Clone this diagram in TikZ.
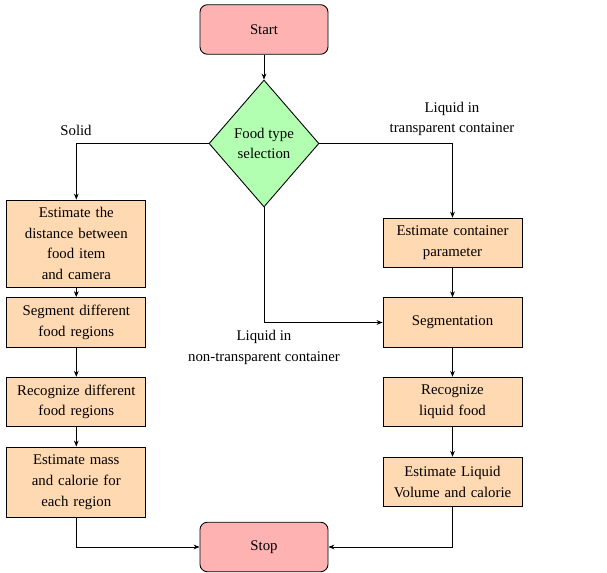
\documentclass[tikz,border=0pt]{standalone}
\usepackage{fontspec}
\setmainfont{Liberation Serif}
\usetikzlibrary{shapes.geometric,arrows.meta}
\begin{document}
\begin{tikzpicture}[x=0.675pt,y=-0.675pt,
  every node/.style={font=\fontsize{10}{14}\selectfont},
  term/.style={draw, rounded corners=5pt, fill=red!30, minimum width=86.4pt, minimum height=33.4pt, line width=0.6pt},
  proc/.style={draw, fill=orange!30, minimum width=93.8pt, text width=88pt, align=center, inner sep=2pt, line width=0.6pt},
  decis/.style={draw, diamond, fill=green!30, minimum width=74.2pt, minimum height=85.7pt, inner sep=0pt, align=center, line width=0.6pt},
  lbl/.style={align=center, inner sep=0pt},
  arr/.style={-{Stealth[length=4pt,width=3.2pt,inset=1.2pt]}, line width=0.6pt}]
\useasboundingbox (0,0) rectangle (607,573);
\node[term] (start) at (264,29.5) {Start};
\node[decis] (dec) at (264,143.5) {Food type\\selection};
\node[proc, minimum height=58.7pt] (l1) at (76.3,243.5) {Estimate the\\distance between\\food item\\and camera};
\node[proc, minimum height=33.4pt] (l2) at (76.3,322.3) {Segment different\\food regions};
\node[proc, minimum height=33.4pt] (l3) at (76.3,402) {Recognize different\\food regions};
\node[proc, minimum height=47.3pt] (l4) at (76.3,482) {Estimate mass\\and calorie for\\each region};
\node[proc, minimum height=33.6pt] (r1) at (452.5,243) {Estimate container\\parameter};
\node[proc, minimum height=33.4pt] (r2) at (452.5,322.5) {Segmentation};
\node[proc, minimum height=33.4pt] (r3) at (452.5,402) {Recognize\\liquid food};
\node[proc, minimum height=33.4pt] (r4) at (452.5,482) {Estimate Liquid\\Volume and calorie};
\node[term] (stop) at (264,547) {Stop};
\node[lbl] (lsolid) at (76,130) {Solid};
\node[lbl] (ltrans) at (452,119) {Liquid in\\transparent container};
\node[lbl] (lnon) at (264,347.5) {Liquid in\\non-transparent container};
\draw[arr] (start) -- (dec);
\draw[arr] (dec.west) -| (l1.north);
\draw[arr] (dec.east) -| (r1.north);
\draw[arr] (dec.south) |- (r2.west);
\draw[arr] (l1) -- (l2);
\draw[arr] (l2) -- (l3);
\draw[arr] (l3) -- (l4);
\draw[arr] (r1) -- (r2);
\draw[arr] (r2) -- (r3);
\draw[arr] (r3) -- (r4);
\draw[arr] (l4.south) |- (stop.west);
\draw[arr] (r4.south) |- (stop.east);
\end{tikzpicture}
\end{document}
